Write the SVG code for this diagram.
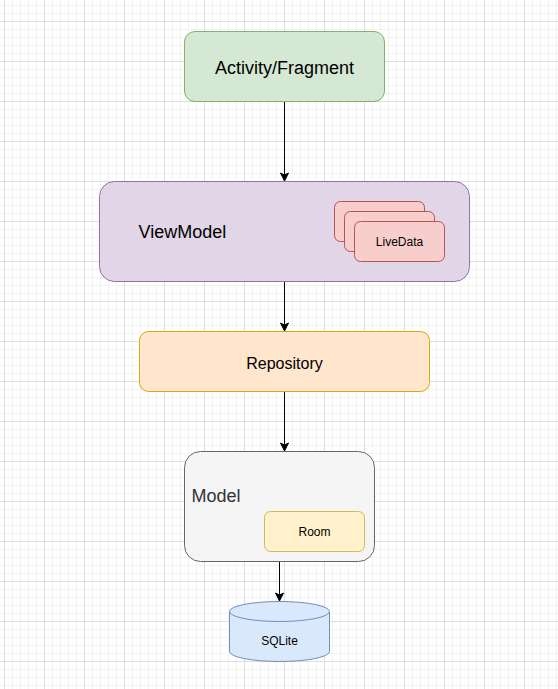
<svg xmlns="http://www.w3.org/2000/svg" width="558" height="689" viewBox="0 0 558 689">
<defs>
<pattern id="grid" patternUnits="userSpaceOnUse" x="4" y="21" width="40" height="40">
<path d="M8.5 0V40M16.5 0V40M24.5 0V40M32.5 0V40M0 8.5H40M0 16.5H40M0 24.5H40M0 32.5H40" stroke="#f2f2f2" stroke-width="1" fill="none"/>
<path d="M0.5 0V40M0 0.5H40" stroke="#dedede" stroke-width="1" fill="none"/>
</pattern>
<marker id="arr" markerUnits="userSpaceOnUse" markerWidth="10" markerHeight="10" viewBox="0 0 10 10" refX="9" refY="5" orient="auto">
<path d="M1,1 L9,5 L1,9 L3,5 Z" fill="#000" stroke="#000" stroke-width="1"/>
</marker>
</defs>
<style>
text{font-family:"Liberation Sans",Arial,Helvetica,sans-serif;fill:#000;}
.big{font-size:18px;}
.mid{font-size:16px;}
.sm{font-size:12px;}
.c{text-anchor:middle;}
.edge{stroke:#000;stroke-width:1;fill:none;marker-end:url(#arr);}
</style>
<rect width="558" height="689" fill="#fff"/>
<rect width="558" height="689" fill="url(#grid)"/>

<g id="edges">
<path class="edge" d="M284.5 101.5V181"/>
<path class="edge" d="M284.5 281.5V331"/>
<path class="edge" d="M284.5 391.5V451"/>
<path class="edge" d="M279.5 561.5V601"/>
</g>

<g id="activity">
<rect x="184.5" y="31.5" width="200" height="70" rx="10.5" fill="#d5e8d4" stroke="#82b366"/>
<text class="big c" x="284.5" y="73.5">Activity/Fragment</text>
</g>

<g id="viewmodel">
<rect x="99.5" y="181.5" width="370" height="100" rx="15" fill="#e1d5e7" stroke="#9673a6"/>
<text class="big" x="138.5" y="238">ViewModel</text>
</g>

<g id="livedata">
<rect x="334.5" y="201.5" width="90" height="40" rx="6" fill="#f8cecc" stroke="#b85450"/>
<rect x="344.5" y="211.5" width="90" height="40" rx="6" fill="#f8cecc" stroke="#b85450"/>
<rect x="354.5" y="221.5" width="90" height="40" rx="6" fill="#f8cecc" stroke="#b85450"/>
<text class="sm c" x="399.5" y="246">LiveData</text>
</g>

<g id="repository">
<rect x="139.5" y="331.5" width="290" height="60" rx="9" fill="#ffe6cc" stroke="#d6a90f"/>
<text class="mid c" x="284.5" y="368.5">Repository</text>
</g>

<g id="model">
<rect x="184.5" y="451.5" width="190" height="110" rx="16" fill="#f5f5f5" stroke="#666666"/>
<text class="big" x="191.5" y="502" style="fill:#333333">Model</text>
</g>

<g id="room">
<rect x="264.5" y="511.5" width="100" height="40" rx="6" fill="#fff2cc" stroke="#d6b656"/>
<text class="sm c" x="314.5" y="536">Room</text>
</g>

<g id="sqlite">
<path d="M229.5 611.5A50 10 0 0 1 329.5 611.5V651.5A50 10 0 0 1 229.5 651.5Z" fill="#dae8fc" stroke="#6c8ebf"/>
<path d="M229.5 611.5A50 10 0 0 0 329.5 611.5" fill="none" stroke="#6c8ebf"/>
<text class="sm c" x="279.5" y="645">SQLite</text>
</g>
</svg>
